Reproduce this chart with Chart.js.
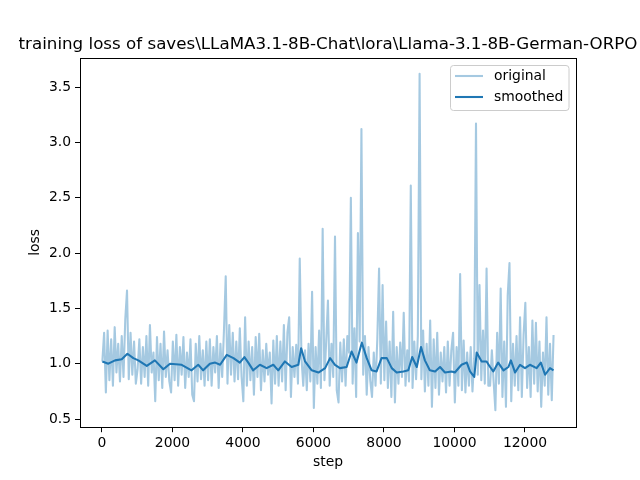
<!DOCTYPE html>
<html>
<head>
<meta charset="utf-8">
<script src="https://cdn.jsdelivr.net/npm/chart.js@4.4.1/dist/chart.umd.min.js"></script>
<style>
  html, body { margin: 0; padding: 0; background: #fff; }
  canvas { display: block; }
</style>
</head>
<body>
<canvas id="lossChart" width="640" height="480"></canvas>
<script>
// Logged every 50 steps, starting at step 10
const firstStep = 10;
const logEvery = 50;

// Raw training loss, one row per ~1000 steps
const rawLoss = [
    1.02, 1.28, 0.74, 1.30, 0.85, 1.22, 0.80, 1.33, 0.92, 1.18, 0.84, 1.25, 0.88, 1.40, 1.66, 0.86, 1.28, 0.90, 1.20, 0.82,
    0.95, 1.22, 0.82, 1.15, 0.88, 1.25, 0.80, 1.35, 0.92, 1.10, 0.66, 1.24, 0.85, 1.18, 0.78, 1.29, 0.88, 1.12, 0.84, 0.74,
    1.20, 0.85, 1.26, 0.80, 1.15, 0.90, 1.24, 0.78, 1.10, 0.88, 1.22, 0.72, 0.66, 1.18, 0.84, 1.25, 0.86, 1.12, 0.80, 1.20,
    0.85, 1.22, 0.80, 1.15, 0.92, 1.25, 0.78, 1.18, 0.88, 1.30, 1.79, 0.82, 1.35, 0.90, 1.28, 0.84, 1.20, 0.86, 1.32, 0.88,
    0.66, 1.42, 0.80, 1.20, 0.85, 1.15, 0.72, 1.24, 0.88, 1.27, 0.76, 1.12, 0.84, 1.18, 0.90, 1.10, 0.64, 1.21, 0.82, 1.25,
    0.80, 1.20, 0.84, 1.35, 0.76, 1.28, 1.42, 0.70, 1.15, 0.88, 1.17, 0.82, 1.95, 1.05, 0.80, 1.12, 0.76, 1.18, 0.84, 1.65,
    0.60, 1.15, 0.82, 1.30, 0.78, 2.22, 0.85, 1.20, 1.57, 0.80, 1.18, 0.88, 2.15, 0.76, 0.65, 1.19, 0.84, 1.22, 0.80, 1.25,
    1.10, 2.50, 0.82, 1.32, 0.70, 2.18, 1.20, 3.12, 0.90, 1.25, 0.72, 1.15, 0.85, 0.70, 1.10, 0.80, 1.22, 1.86, 0.82, 1.71,
    0.85, 1.38, 0.78, 1.20, 0.70, 1.47, 0.65, 1.15, 0.82, 1.19, 0.88, 1.46, 0.80, 1.12, 0.84, 2.61, 0.78, 1.20, 0.86, 1.25,
    3.62, 0.86, 1.30, 0.75, 1.18, 0.80, 1.39, 0.61, 1.22, 0.78, 1.28, 0.72, 1.10, 0.84, 1.15, 0.74, 1.20, 0.80, 1.12, 1.28,
    0.65, 1.15, 0.80, 1.81, 0.76, 1.21, 0.74, 1.10, 0.80, 1.15, 0.75, 1.05, 3.17, 0.90, 1.71, 0.85, 1.30, 0.82, 1.86, 0.80,
    0.80, 1.12, 0.84, 0.58, 1.28, 0.82, 1.68, 0.70, 1.20, 0.61, 1.62, 1.91, 0.66, 1.18, 0.80, 1.25, 0.76, 1.42, 0.70, 1.26,
    1.55, 0.78, 1.15, 0.70, 1.39, 0.82, 1.37, 0.75, 1.20, 0.61, 1.10, 0.80, 1.42, 0.72, 1.18, 0.67, 1.26
];

// Smoothed curve, points
const smoothSteps = [
    10, 180, 370, 560, 720, 890, 1030, 1270, 1500, 1740, 1930, 2260, 2540, 2730, 2870, 3060, 3210, 3350, 3540, 3730,
    3910, 4040, 4150, 4290, 4480, 4670, 4860, 5000, 5190, 5380, 5570, 5650, 5760, 5950, 6140, 6330, 6470, 6610, 6750, 6940,
    7080, 7220, 7370, 7510, 7650, 7790, 7930, 8080, 8220, 8360, 8550, 8690, 8800, 8930, 9050, 9160, 9300, 9450, 9590, 9730,
    9920, 10010, 10200, 10350, 10440, 10560, 10630, 10770, 10910, 11010, 11100, 11240, 11390, 11530, 11600, 11720, 11860, 12000, 12140, 12330,
    12450, 12570, 12710, 12810
];
const smoothLoss = [
    1.02, 1.00, 1.03, 1.04, 1.09, 1.05, 1.03, 0.98, 1.03, 0.95, 1.00, 0.99, 0.94, 0.99, 0.94, 1.00, 1.01, 0.99, 1.08, 1.05,
    1.01, 1.06, 1.01, 0.94, 0.99, 0.96, 0.99, 0.94, 1.02, 0.97, 0.99, 1.14, 1.02, 0.94, 0.92, 0.96, 1.05, 0.99, 0.96, 0.97,
    1.11, 1.01, 1.19, 1.05, 0.94, 0.93, 1.05, 1.05, 0.96, 0.92, 0.93, 0.94, 1.06, 0.97, 1.15, 1.03, 0.94, 0.93, 0.97, 0.92,
    0.93, 0.92, 0.99, 1.01, 0.93, 0.88, 1.10, 1.02, 1.02, 0.97, 0.93, 1.01, 0.94, 0.97, 1.03, 0.92, 0.99, 0.96, 0.99, 0.96,
    1.01, 0.90, 0.96, 0.94
];

const xTicks = [0, 2000, 4000, 6000, 8000, 10000, 12000];
const yTicks = [0.5, 1.0, 1.5, 2.0, 2.5, 3.0, 3.5];

const titleText = 'training loss of saves\\LLaMA3.1-8B-Chat\\lora\\Llama-3.1-8B-German-ORPO';
const FONT = "'DejaVu Sans', sans-serif";
const BLUE = '#1f77b4';
const BLUE_LIGHT = 'rgba(31, 119, 180, 0.4)';

const rawPoints = rawLoss.map((v, i) => ({ x: firstStep + i * logEvery, y: v }));
const smoothPoints = smoothLoss.map((v, i) => ({ x: smoothSteps[i], y: v }));

// matplotlib-style frame, title, axis labels and legend
const mplDecor = {
    id: 'mplDecor',
    afterDraw(chart) {
        const ctx = chart.ctx;
        const a = chart.chartArea;
        ctx.save();

        // frame
        ctx.strokeStyle = '#000';
        ctx.lineWidth = 1;
        ctx.strokeRect(Math.round(a.left) + 0.5, Math.round(a.top) + 0.5,
            Math.round(a.right - a.left), Math.round(a.bottom - a.top) - 1);

        // title
        ctx.fillStyle = '#000';
        ctx.font = '16.7px ' + FONT;
        ctx.textAlign = 'center';
        ctx.textBaseline = 'alphabetic';
        ctx.fillText(titleText, (a.left + a.right) / 2, 49);

        // axis labels
        ctx.font = '13.9px ' + FONT;
        ctx.textBaseline = 'middle';
        ctx.fillText('step', (a.left + a.right) / 2, 462);
        ctx.save();
        ctx.translate(35, (a.top + a.bottom) / 2);
        ctx.rotate(-Math.PI / 2);
        ctx.fillText('loss', 0, 0);
        ctx.restore();

        // legend box
        const bx = 450.5, by = 65.5, bw = 118.5, bh = 45, r = 3;
        ctx.beginPath();
        ctx.moveTo(bx + r, by);
        ctx.arcTo(bx + bw, by, bx + bw, by + bh, r);
        ctx.arcTo(bx + bw, by + bh, bx, by + bh, r);
        ctx.arcTo(bx, by + bh, bx, by, r);
        ctx.arcTo(bx, by, bx + bw, by, r);
        ctx.closePath();
        ctx.fillStyle = 'rgba(255, 255, 255, 0.8)';
        ctx.fill();
        ctx.strokeStyle = '#cccccc';
        ctx.lineWidth = 1;
        ctx.stroke();

        ctx.lineWidth = 2.08;
        ctx.strokeStyle = BLUE_LIGHT;
        ctx.beginPath();
        ctx.moveTo(455, 76);
        ctx.lineTo(483, 76);
        ctx.stroke();
        ctx.strokeStyle = BLUE;
        ctx.beginPath();
        ctx.moveTo(455, 97);
        ctx.lineTo(483, 97);
        ctx.stroke();

        ctx.fillStyle = '#000';
        ctx.font = '13.9px ' + FONT;
        ctx.textAlign = 'left';
        ctx.textBaseline = 'middle';
        ctx.fillText('original', 494, 76);
        ctx.fillText('smoothed', 494, 97);

        ctx.restore();
    }
};

const ctx = document.getElementById('lossChart').getContext('2d');
new Chart(ctx, {
    type: 'line',
    data: {
        datasets: [
            {
                label: 'original',
                data: rawPoints,
                borderColor: BLUE_LIGHT,
                borderWidth: 2.08,
                pointRadius: 0,
                tension: 0,
                borderJoinStyle: 'round',
                fill: false,
                order: 1
            },
            {
                label: 'smoothed',
                data: smoothPoints,
                borderColor: BLUE,
                borderWidth: 2.08,
                pointRadius: 0,
                tension: 0,
                borderJoinStyle: 'round',
                fill: false,
                order: 0
            }
        ]
    },
    options: {
        responsive: false,
        animation: false,
        devicePixelRatio: 1,
        layout: { padding: { left: 0, right: 64, top: 57.6, bottom: 0 } },
        scales: {
            x: {
                type: 'linear',
                min: -624,
                max: 13447,
                afterFit: function(scale) { scale.height = 52.8; },
                afterBuildTicks: function(scale) {
                    scale.ticks = xTicks.map(v => ({ value: v }));
                },
                grid: {
                    drawOnChartArea: false,
                    drawTicks: true,
                    tickLength: 5,
                    color: '#000'
                },
                border: { display: false },
                ticks: {
                    color: '#000',
                    padding: 3,
                    maxRotation: 0,
                    autoSkip: false,
                    font: { family: FONT, size: 13.9 },
                    callback: function(value) { return String(value); }
                }
            },
            y: {
                min: 0.426,
                max: 3.766,
                afterFit: function(scale) { scale.width = 80; },
                afterBuildTicks: function(scale) {
                    scale.ticks = yTicks.map(v => ({ value: v }));
                },
                grid: {
                    drawOnChartArea: false,
                    drawTicks: true,
                    tickLength: 5,
                    color: '#000'
                },
                border: { display: false },
                ticks: {
                    color: '#000',
                    padding: 4,
                    autoSkip: false,
                    font: { family: FONT, size: 13.9 },
                    callback: function(value) { return value.toFixed(1); }
                }
            }
        },
        plugins: {
            legend: { display: false },
            title: { display: false },
            tooltip: { enabled: false }
        }
    },
    plugins: [mplDecor]
});
</script>
</body>
</html>
